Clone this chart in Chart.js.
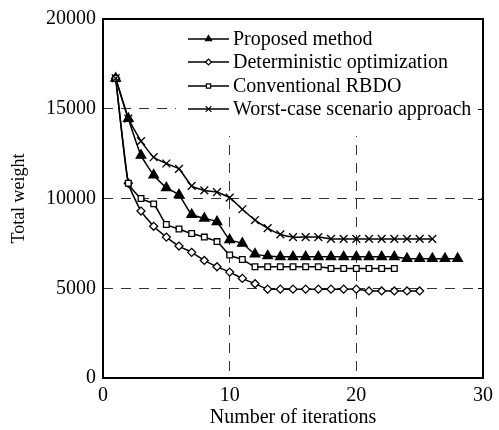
<!DOCTYPE html>
<html><head><meta charset="utf-8">
<script src="https://cdn.jsdelivr.net/npm/chart.js@4/dist/chart.umd.min.js"></script>
<style>html,body{margin:0;padding:0;background:#fff}#wrap{width:499px;height:430px}</style>
</head><body><div id="wrap"><canvas id="c"></canvas></div>
<script>
const seriesNames = ["Proposed method", "Deterministic optimization", "Conventional RBDO", "Worst-case scenario approach"];
const proposed = [16700, 14450, 12400, 11300, 10600, 10200, 9100, 8900, 8700, 7700, 7500, 6900, 6800, 6750, 6750, 6750, 6750, 6750, 6750, 6750, 6750, 6750, 6750, 6650, 6650, 6650, 6650, 6650];
const deterministic = [16700, 10850, 9300, 8450, 7850, 7350, 7000, 6550, 6200, 5900, 5550, 5250, 4950, 4950, 4950, 4950, 4950, 4950, 4950, 4950, 4850, 4850, 4850, 4850, 4850];
const conventional = [16700, 10850, 10000, 9700, 8550, 8300, 8050, 7850, 7600, 6850, 6600, 6200, 6200, 6200, 6200, 6200, 6200, 6100, 6100, 6100, 6100, 6100, 6100];
const worstCase = [16700, 14450, 13200, 12300, 11950, 11650, 10700, 10450, 10350, 10050, 9400, 8800, 8350, 8000, 7850, 7850, 7850, 7750, 7750, 7750, 7750, 7750, 7750, 7750, 7750, 7750];
const xTicks = [0, 10, 20, 30];
const yTicks = [0, 5000, 10000, 15000, 20000];

const FONT = "'Liberation Serif', 'Times New Roman', serif";
const toPts = arr => arr.map((v, i) => ({x: i + 1, y: v}));
const styles = [
  {pointStyle: 'triangle', pointRadius: 5.5, pointBackgroundColor: '#000', legendRadius: 3.5},
  {pointStyle: 'rectRot', pointRadius: 4, pointBackgroundColor: '#fff', legendRadius: 3},
  {pointStyle: 'rect', pointRadius: 4, pointBackgroundColor: '#fff', legendRadius: 3},
  {pointStyle: 'crossRot', pointRadius: 5.5, pointBackgroundColor: '#fff', legendRadius: 4}
];
const allData = [proposed, deterministic, conventional, worstCase];
const datasets = allData.map((d, i) => ({
  label: seriesNames[i],
  data: toPts(d),
  borderColor: '#000',
  borderWidth: 1.5,
  pointBorderColor: '#000',
  pointBorderWidth: 1.3,
  pointStyle: styles[i].pointStyle,
  pointRadius: styles[i].pointRadius,
  pointBackgroundColor: styles[i].pointBackgroundColor,
  legendRadius: styles[i].legendRadius,
  tension: 0.15,
  fill: false
})).reverse();

const legendBox = {
  id: 'legendBox',
  beforeDatasetsDraw(chart) {
    const ctx = chart.ctx, a = chart.chartArea;
    ctx.save();
    ctx.fillStyle = '#fff';
    ctx.fillRect(176, a.top, a.right - 176, 136 - a.top);
    ctx.restore();
  },
  afterDraw(chart) {
    const ctx = chart.ctx, a = chart.chartArea;
    ctx.save();
    ctx.strokeStyle = '#000';
    ctx.lineWidth = 2;
    ctx.setLineDash([]);
    ctx.strokeRect(a.left, a.top, a.right - a.left, a.bottom - a.top);
    ctx.lineWidth = 1;
    const ys = chart.scales.y;
    [5000, 10000, 15000].forEach(v => {
      const py = Math.round(ys.getPixelForValue(v)) + 0.5;
      ctx.beginPath(); ctx.moveTo(a.right - 5, py); ctx.lineTo(a.right, py); ctx.stroke();
    });
    const order = [3, 2, 1, 0];
    const rowY = [39, 62, 86, 109];
    ctx.font = '20px ' + FONT;
    ctx.textBaseline = 'middle';
    order.forEach((di, r) => {
      const ds = chart.data.datasets[di];
      const y = rowY[r];
      ctx.strokeStyle = '#000';
      ctx.lineWidth = 1.5;
      ctx.beginPath(); ctx.moveTo(188, y); ctx.lineTo(229, y); ctx.stroke();
      ctx.fillStyle = ds.pointBackgroundColor;
      ctx.lineWidth = 1.2;
      Chart.helpers.drawPoint(ctx, {pointStyle: ds.pointStyle, radius: ds.legendRadius, rotation: 0, borderWidth: 1.2}, 208.5, y);
      ctx.fillStyle = '#000';
      ctx.fillText(ds.label, 233, y + 1);
    });
    ctx.restore();
  }
};

const gridColor = (edges) => (ctx) => (edges.includes(ctx.tick && ctx.tick.value) ? 'rgba(0,0,0,0)' : '#333');

new Chart(document.getElementById('c'), {
  type: 'line',
  data: {datasets},
  plugins: [legendBox],
  options: {
    responsive: true,
    maintainAspectRatio: false,
    animation: false,
    layout: {padding: {top: 18, right: 12, left: 0, bottom: 0}},
    plugins: {legend: {display: false}, tooltip: {enabled: false}},
    scales: {
      x: {
        type: 'linear', min: 0, max: 30,
        afterBuildTicks: s => { s.ticks = xTicks.map(v => ({value: v})); },
        afterFit: s => { s.height = 52; },
        grid: {color: gridColor([0, 30]), lineWidth: 1, drawTicks: false},
        border: {display: false, dash: [10, 8]},
        ticks: {color: '#000', font: {family: FONT, size: 20}, padding: 6, maxRotation: 0, callback: v => String(v)},
        title: {display: true, text: 'Number of iterations', color: '#000', font: {family: FONT, size: 20}, padding: {top: 0, bottom: 0}}
      },
      y: {
        min: 0, max: 20000,
        afterBuildTicks: s => { s.ticks = yTicks.map(v => ({value: v})); },
        afterFit: s => { s.width = 103; },
        grid: {color: gridColor([0, 20000]), lineWidth: 1, drawTicks: false},
        border: {display: false, dash: [10, 8]},
        ticks: {color: '#000', font: {family: FONT, size: 20}, padding: 7, callback: v => String(v)},
        title: {display: true, text: 'Total weight', color: '#000', font: {family: FONT, size: 18}, padding: {top: 8, bottom: 0}}
      }
    }
  }
});
</script></body></html>
